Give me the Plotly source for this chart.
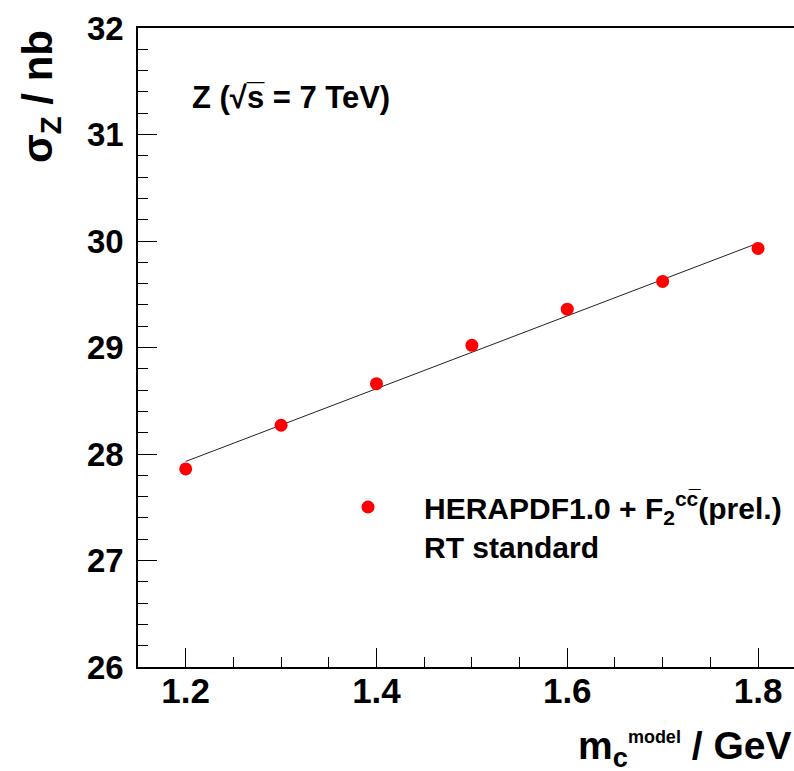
import plotly.graph_objects as go

# data
mc_model = [1.2, 1.3, 1.4, 1.5, 1.6, 1.7, 1.8]
sigma_z = [27.86, 28.27, 28.66, 29.02, 29.36, 29.62, 29.93]
fit_x = [1.2, 1.8]
fit_y = [27.93, 29.98]
x_ticks = [1.2, 1.4, 1.6, 1.8]
y_ticks = [26, 27, 28, 29, 30, 31, 32]

FONT = "Liberation Sans, Arial, sans-serif"

fig = go.Figure()
fig.add_trace(go.Scatter(x=fit_x, y=fit_y, mode="lines",
                         line=dict(color="#222222", width=1), showlegend=False,
                         hoverinfo="skip"))
fig.add_trace(go.Scatter(x=mc_model, y=sigma_z, mode="markers",
                         marker=dict(color="#ff0000", size=13),
                         name="HERAPDF1.0 + F<sub>2</sub><sup>cc\u0305</sup>(prel.)<br>RT standard"))

L, R, T, B = 138, 0, 28, 104
W, H = 794, 771
pw, ph = W - L - R, H - T - B

def px(xp):
    return (xp - L) / pw

def py(yp):
    return 1 - (yp - T) / ph

fig.update_layout(
    width=W, height=H,
    margin=dict(l=L, r=R, t=T, b=B, autoexpand=False),
    paper_bgcolor="white", plot_bgcolor="white",
    font=dict(family=FONT, color="black"),
    showlegend=True,
    legend=dict(x=px(312), y=py(481), xanchor="left", yanchor="top",
                bgcolor="rgba(0,0,0,0)", valign="top", itemwidth=102,
                font=dict(family=FONT, size=30, weight="bold")),
    xaxis=dict(range=[1.15, 1.8377], tickvals=x_ticks, ticks="inside", ticklen=19,
               tickwidth=1.2, tickcolor="black",
               minor=dict(dtick=0.05, tick0=1.2, ticks="inside", ticklen=10, tickwidth=1.2, tickcolor="black"),
               showgrid=False, zeroline=False, showline=True, linecolor="black", linewidth=1.6,
               mirror=True, tickfont=dict(size=35, weight="bold"), ticklabelstandoff=-8),
    yaxis=dict(range=[26, 32], tickvals=y_ticks, ticks="inside", ticklen=19,
               tickwidth=1.2, tickcolor="black",
               minor=dict(dtick=0.2, tick0=26, ticks="inside", ticklen=10, tickwidth=1.2, tickcolor="black"),
               showgrid=False, zeroline=False, showline=True, linecolor="black", linewidth=1.6,
               mirror=False, tickfont=dict(size=33, weight="bold"), ticklabelstandoff=6),
    annotations=[
        dict(text="Z (\u221as\u0305 = 7 TeV)", xref="paper", yref="paper",
             x=px(190), y=py(97), xanchor="left", yanchor="middle", showarrow=False,
             font=dict(size=31, weight="bold")),
        dict(text="\u03c3<sub>Z</sub> / nb", xref="paper", yref="paper",
             x=px(40), y=py(97), xanchor="center", yanchor="middle", textangle=-90,
             showarrow=False, font=dict(size=42, weight="bold")),
        dict(text="m<sub>c</sub><sup><span style='font-size:18px'>model</span></sup> / GeV",
             xref="paper", yref="paper",
             x=px(793), y=py(748), xanchor="right", yanchor="middle", showarrow=False,
             font=dict(size=39, weight="bold")),
    ],
)

fig.write_html("out.html", config={"displayModeBar": False},
               post_script="document.body.style.margin='0';document.body.style.overflow='hidden';")
